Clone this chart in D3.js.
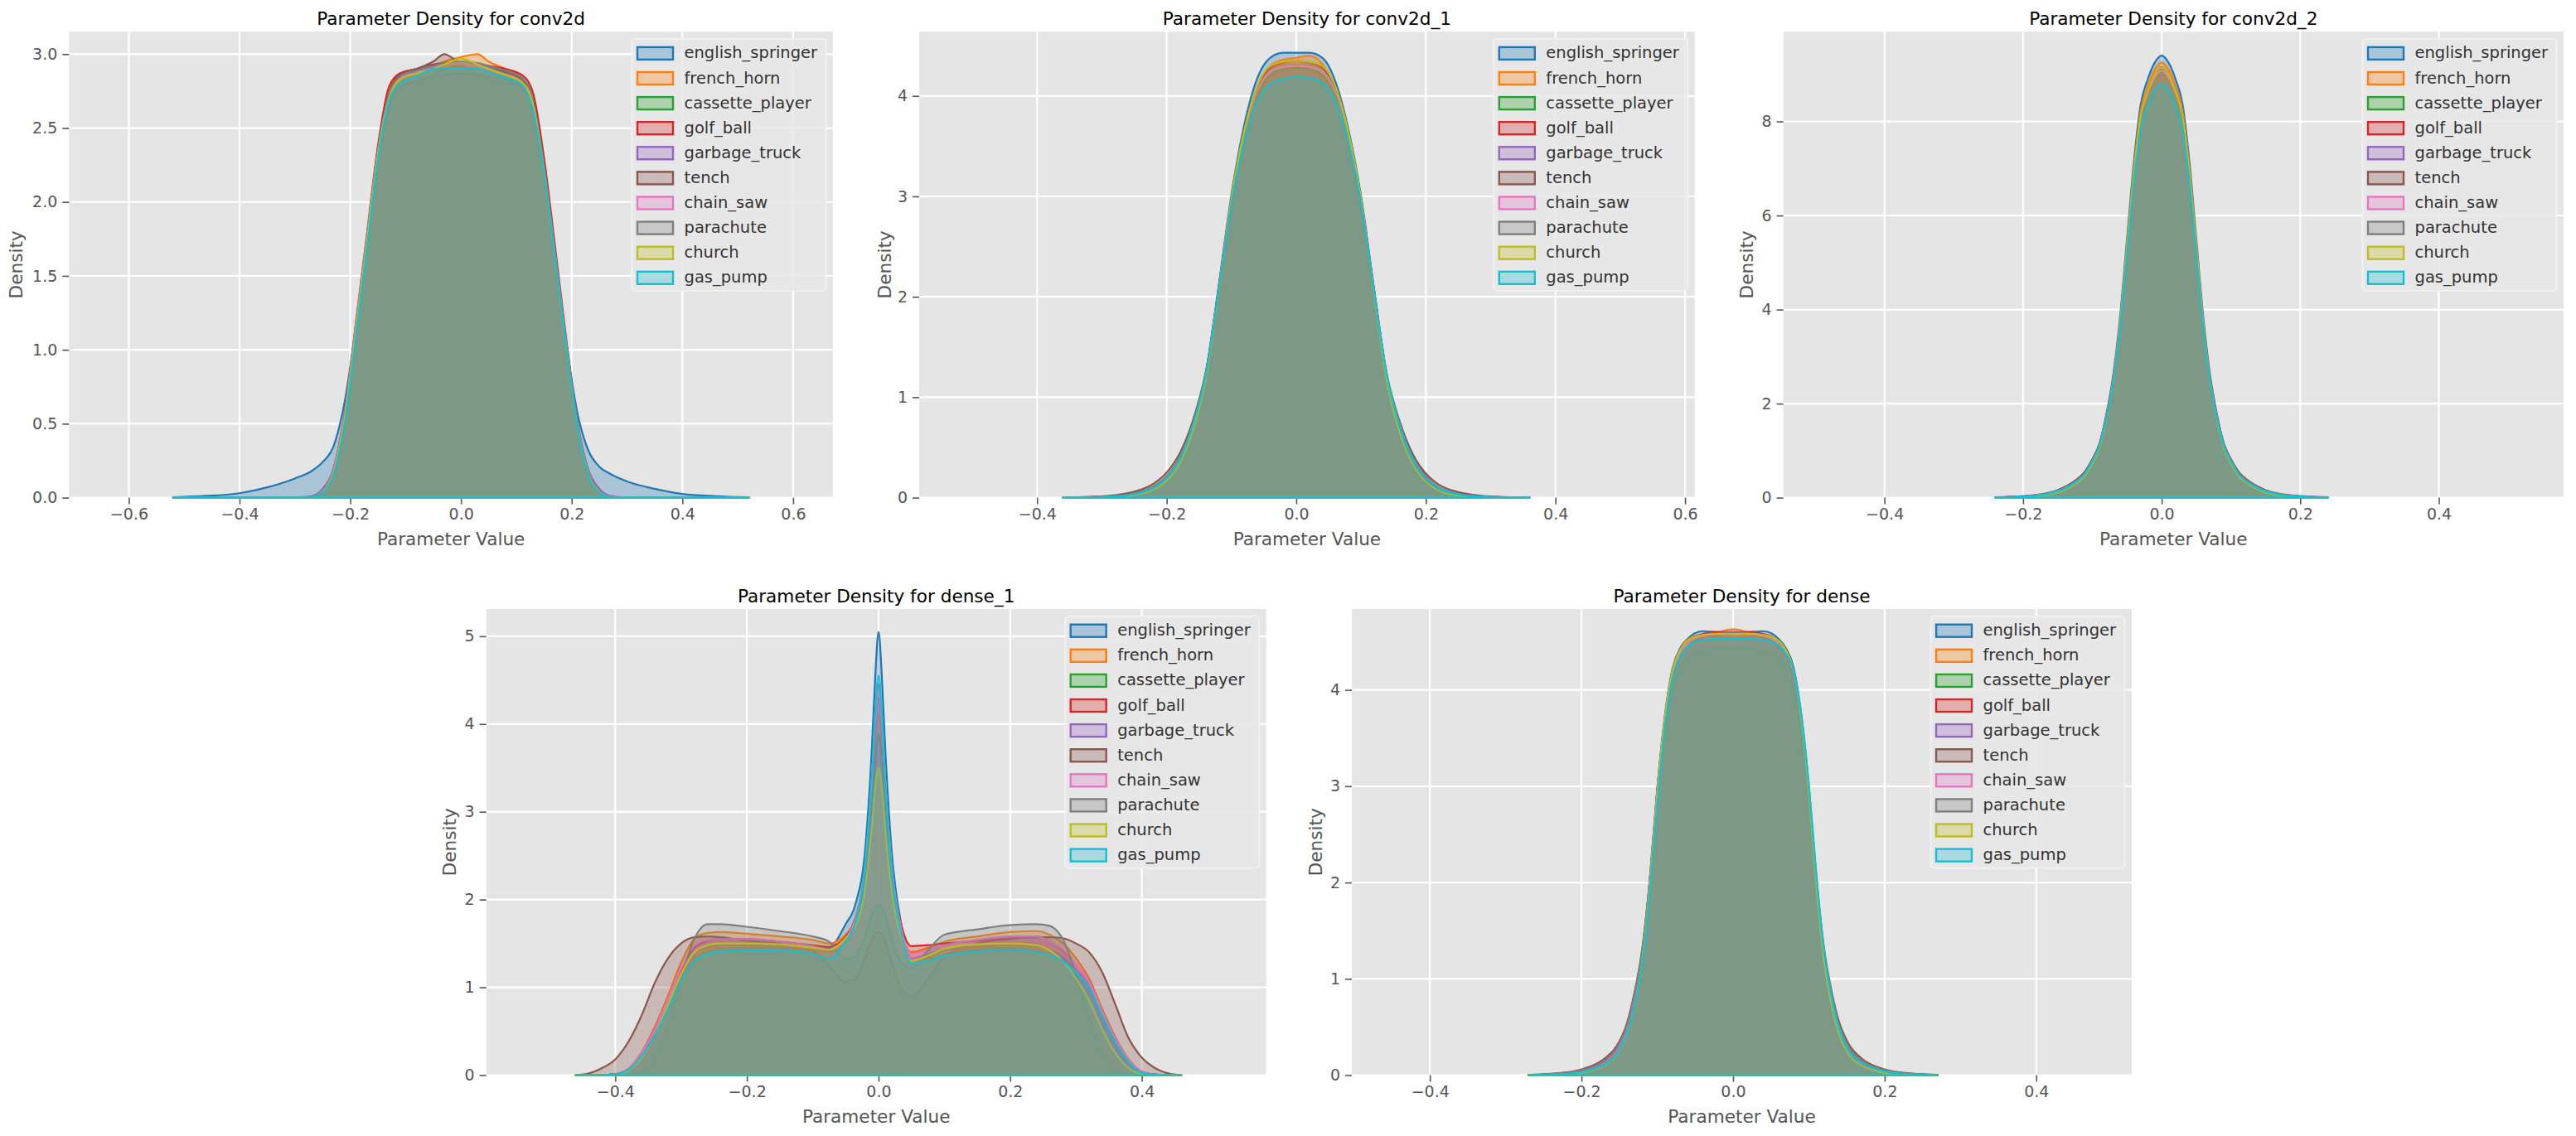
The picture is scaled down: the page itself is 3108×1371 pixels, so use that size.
<!DOCTYPE html>
<html><head><meta charset="utf-8">
<script src="https://cdn.jsdelivr.net/npm/d3@7"></script>
<style>html,body{margin:0;padding:0;background:#fff;} svg{display:block;font-family:"DejaVu Sans",sans-serif;}</style>
</head><body><svg id="chart" width="3108" height="1371"></svg>
<script>
// ---------- data ----------
const classes = ["english_springer","french_horn","cassette_player","golf_ball","garbage_truck","tench","chain_saw","parachute","church","gas_pump"];
const colors = ["#1f77b4","#ff7f0e","#2ca02c","#d62728","#9467bd","#8c564b","#e377c2","#7f7f7f","#bcbd22","#17becf"];
const layerNames = ["conv2d","conv2d_1","conv2d_2","dense_1","dense"];

// conv2d
const conv2dX = [-0.52,-0.46,-0.40,-0.35,-0.30,-0.27,-0.25,-0.23,-0.21,-0.19,-0.17,-0.15,-0.13,-0.11,-0.08,-0.05,-0.03,0,0.03,0.05,0.08,0.11,0.13,0.15,0.17,0.19,0.21,0.23,0.25,0.27,0.30,0.35,0.40,0.46,0.52];
const conv2dDensity = [
 [0.003,0.012,0.03,0.07,0.13,0.18,0.24,0.35,0.65,1.15,1.72,2.28,2.65,2.78,2.82,2.85,2.86,2.87,2.86,2.85,2.83,2.77,2.62,2.18,1.62,1.05,0.58,0.32,0.21,0.16,0.11,0.06,0.025,0.01,0.003],
 [0,0,0,0,0,0.003,0.04,0.18,0.55,1.15,1.76,2.36,2.74,2.87,2.9,2.92,2.95,2.98,3.0,2.95,2.9,2.84,2.7,2.25,1.65,1.05,0.5,0.17,0.04,0.004,0,0,0,0,0],
 [0,0,0,0,0,0.003,0.04,0.18,0.55,1.14,1.74,2.33,2.7,2.8,2.8,2.86,2.9,2.92,2.86,2.83,2.8,2.8,2.66,2.22,1.64,1.04,0.49,0.16,0.04,0.004,0,0,0,0,0],
 [0,0,0,0,0,0.004,0.05,0.2,0.58,1.18,1.78,2.38,2.78,2.87,2.9,2.93,2.94,2.94,2.93,2.92,2.9,2.86,2.74,2.3,1.7,1.08,0.52,0.18,0.045,0.005,0,0,0,0,0],
 [0,0,0,0,0.002,0.01,0.06,0.2,0.56,1.15,1.75,2.34,2.72,2.86,2.9,2.92,2.94,2.95,2.93,2.91,2.88,2.83,2.68,2.24,1.65,1.06,0.52,0.19,0.06,0.012,0.002,0,0,0,0],
 [0,0,0,0,0,0.003,0.04,0.18,0.55,1.15,1.75,2.35,2.73,2.86,2.9,2.95,3.0,2.94,2.93,2.9,2.88,2.83,2.68,2.23,1.64,1.04,0.5,0.17,0.04,0.004,0,0,0,0,0],
 [0,0,0,0,0,0.003,0.04,0.19,0.57,1.17,1.77,2.35,2.72,2.84,2.88,2.91,2.93,2.94,2.92,2.9,2.86,2.81,2.66,2.22,1.64,1.04,0.5,0.17,0.04,0.004,0,0,0,0,0],
 [0,0,0,0,0,0.003,0.04,0.18,0.55,1.15,1.75,2.34,2.72,2.85,2.89,2.92,2.94,2.95,2.94,2.92,2.89,2.84,2.69,2.24,1.65,1.05,0.5,0.17,0.04,0.004,0,0,0,0,0],
 [0,0,0,0,0,0.003,0.04,0.18,0.54,1.13,1.73,2.32,2.7,2.83,2.87,2.9,2.93,2.97,2.93,2.9,2.86,2.81,2.66,2.21,1.63,1.03,0.49,0.16,0.04,0.004,0,0,0,0,0],
 [0,0,0,0,0,0.003,0.035,0.16,0.5,1.08,1.68,2.28,2.68,2.8,2.85,2.9,2.905,2.905,2.9,2.88,2.84,2.79,2.62,2.2,1.63,1.03,0.48,0.15,0.035,0.003,0,0,0,0,0]
];
const conv2dXTicks = [-0.6,-0.4,-0.2,0,0.2,0.4,0.6];
const conv2dYTicks = [0,0.5,1.0,1.5,2.0,2.5,3.0];

// conv2d_1
const conv2d1X = [-0.36,-0.32,-0.28,-0.25,-0.22,-0.20,-0.18,-0.16,-0.14,-0.12,-0.10,-0.08,-0.06,-0.04,-0.02,0,0.02,0.04,0.06,0.08,0.10,0.12,0.14,0.16,0.18,0.20,0.22,0.25,0.28,0.32,0.36];
const conv2d1Density = [
 [0,0.004,0.015,0.04,0.11,0.21,0.39,0.72,1.22,2.1,3.02,3.72,4.18,4.38,4.43,4.43,4.43,4.38,4.15,3.68,3.0,2.08,1.2,0.7,0.38,0.2,0.1,0.035,0.012,0.003,0],
 [0,0.004,0.015,0.04,0.11,0.21,0.39,0.72,1.22,2.08,2.99,3.66,4.1,4.3,4.36,4.38,4.4,4.32,4.08,3.62,2.97,2.06,1.2,0.7,0.38,0.2,0.1,0.035,0.012,0.003,0],
 [0,0.003,0.012,0.035,0.1,0.2,0.38,0.7,1.2,2.05,2.95,3.6,4.03,4.22,4.27,4.28,4.27,4.22,4.03,3.58,2.93,2.04,1.18,0.68,0.37,0.19,0.09,0.03,0.01,0.002,0],
 [0,0.004,0.015,0.04,0.11,0.21,0.4,0.73,1.23,2.08,2.98,3.64,4.08,4.28,4.33,4.35,4.33,4.28,4.07,3.62,2.97,2.07,1.21,0.71,0.39,0.21,0.1,0.035,0.012,0.003,0],
 [0,0.004,0.015,0.04,0.11,0.21,0.39,0.72,1.21,2.06,2.96,3.62,4.05,4.25,4.3,4.31,4.3,4.25,4.05,3.6,2.95,2.05,1.2,0.7,0.38,0.2,0.1,0.035,0.012,0.003,0],
 [0.002,0.008,0.025,0.06,0.14,0.25,0.44,0.76,1.24,2.02,2.9,3.55,3.98,4.2,4.26,4.28,4.26,4.2,3.97,3.54,2.88,2.01,1.22,0.75,0.43,0.24,0.13,0.055,0.022,0.007,0.002],
 [0,0.004,0.015,0.04,0.11,0.21,0.39,0.71,1.2,2.05,2.95,3.61,4.04,4.24,4.29,4.3,4.29,4.24,4.04,3.59,2.94,2.04,1.19,0.7,0.38,0.2,0.1,0.035,0.012,0.003,0],
 [0,0.004,0.015,0.04,0.11,0.21,0.39,0.71,1.2,2.04,2.93,3.58,4.01,4.21,4.26,4.27,4.26,4.21,4.01,3.57,2.92,2.03,1.19,0.7,0.38,0.2,0.1,0.035,0.012,0.003,0],
 [0,0.002,0.008,0.025,0.08,0.17,0.34,0.66,1.17,2.05,2.98,3.66,4.1,4.3,4.34,4.35,4.34,4.3,4.1,3.65,2.97,2.03,1.15,0.64,0.33,0.16,0.07,0.02,0.006,0.001,0],
 [0,0.003,0.012,0.035,0.1,0.2,0.39,0.72,1.22,2.06,2.93,3.55,3.95,4.12,4.17,4.19,4.18,4.13,3.95,3.55,2.93,2.06,1.22,0.72,0.39,0.2,0.1,0.035,0.012,0.003,0]
];
const conv2d1XTicks = [-0.4,-0.2,0,0.2,0.4,0.6];
const conv2d1YTicks = [0,1,2,3,4];

// conv2d_2
const conv2d2X = [-0.24,-0.20,-0.17,-0.15,-0.13,-0.11,-0.10,-0.09,-0.08,-0.07,-0.06,-0.05,-0.04,-0.03,-0.02,-0.01,0,0.01,0.02,0.03,0.04,0.05,0.06,0.07,0.08,0.09,0.10,0.11,0.13,0.15,0.17,0.20,0.24];
const conv2d2Density = [
 [0.005,0.025,0.07,0.14,0.28,0.54,0.8,1.13,1.76,2.6,3.85,5.5,7.15,8.38,8.9,9.25,9.4,9.25,8.9,8.38,7.15,5.5,3.85,2.6,1.76,1.13,0.8,0.54,0.28,0.14,0.07,0.025,0.005],
 [0.005,0.025,0.07,0.14,0.28,0.53,0.79,1.12,1.73,2.55,3.77,5.4,7.02,8.24,8.75,9.1,9.25,9.1,8.75,8.24,7.02,5.4,3.77,2.55,1.73,1.12,0.79,0.53,0.28,0.14,0.07,0.025,0.005],
 [0.004,0.022,0.065,0.13,0.27,0.52,0.77,1.09,1.69,2.49,3.68,5.27,6.86,8.05,8.55,8.9,9.05,8.9,8.55,8.05,6.86,5.27,3.68,2.49,1.69,1.09,0.77,0.52,0.27,0.13,0.065,0.022,0.004],
 [0.005,0.025,0.07,0.14,0.28,0.53,0.78,1.1,1.71,2.52,3.73,5.34,6.95,8.15,8.65,9.0,9.15,9.0,8.65,8.15,6.95,5.34,3.73,2.52,1.71,1.1,0.78,0.53,0.28,0.14,0.07,0.025,0.005],
 [0.005,0.025,0.07,0.14,0.28,0.53,0.78,1.1,1.7,2.5,3.7,5.3,6.9,8.1,8.6,8.95,9.1,8.95,8.6,8.1,6.9,5.3,3.7,2.5,1.7,1.1,0.78,0.53,0.28,0.14,0.07,0.025,0.005],
 [0.008,0.035,0.085,0.16,0.31,0.57,0.82,1.14,1.72,2.5,3.66,5.22,6.8,7.98,8.5,8.85,9.0,8.85,8.5,7.98,6.8,5.22,3.66,2.5,1.72,1.14,0.82,0.57,0.31,0.16,0.085,0.035,0.008],
 [0.005,0.025,0.07,0.14,0.28,0.53,0.78,1.1,1.7,2.49,3.69,5.29,6.88,8.08,8.58,8.93,9.08,8.93,8.58,8.08,6.88,5.29,3.69,2.49,1.7,1.1,0.78,0.53,0.28,0.14,0.07,0.025,0.005],
 [0.005,0.025,0.07,0.14,0.28,0.53,0.78,1.1,1.69,2.48,3.66,5.24,6.82,8.0,8.5,8.85,9.0,8.85,8.5,8.0,6.82,5.24,3.66,2.48,1.69,1.1,0.78,0.53,0.28,0.14,0.07,0.025,0.005],
 [0.002,0.015,0.05,0.11,0.24,0.48,0.72,1.04,1.65,2.47,3.7,5.32,6.94,8.15,8.65,9.0,9.15,9.0,8.65,8.15,6.94,5.32,3.7,2.47,1.65,1.04,0.72,0.48,0.24,0.11,0.05,0.015,0.002],
 [0.005,0.025,0.07,0.14,0.28,0.53,0.78,1.1,1.68,2.45,3.62,5.15,6.7,7.84,8.32,8.66,8.8,8.66,8.32,7.84,6.7,5.15,3.62,2.45,1.68,1.1,0.78,0.53,0.28,0.14,0.07,0.025,0.005]
];
const conv2d2XTicks = [-0.4,-0.2,0,0.2,0.4];
const conv2d2YTicks = [0,2,4,6,8];

// dense_1
const dense1X = [-0.46,-0.44,-0.42,-0.40,-0.38,-0.36,-0.34,-0.32,-0.30,-0.28,-0.26,-0.24,-0.20,-0.15,-0.10,-0.075,-0.05,-0.035,-0.02,-0.01,-0.005,0,0.005,0.01,0.02,0.035,0.05,0.075,0.10,0.15,0.20,0.24,0.26,0.28,0.30,0.32,0.34,0.36,0.38,0.40,0.42,0.44,0.46];
const dense1Density = [
 [0,0,0,0.01,0.06,0.22,0.46,0.77,1.1,1.33,1.41,1.44,1.45,1.45,1.43,1.45,1.72,1.95,2.6,3.75,4.55,5.05,4.55,3.75,2.55,1.7,1.3,1.33,1.38,1.43,1.45,1.42,1.38,1.31,1.18,1.0,0.68,0.38,0.15,0.03,0.005,0,0],
 [0,0,0,0.01,0.07,0.26,0.55,0.9,1.28,1.55,1.62,1.63,1.61,1.58,1.54,1.5,1.6,1.8,2.35,3.2,3.78,4.1,3.78,3.18,2.3,1.65,1.4,1.45,1.52,1.58,1.63,1.64,1.6,1.5,1.33,1.1,0.75,0.43,0.18,0.04,0.006,0,0],
 [0,0,0,0.01,0.06,0.23,0.48,0.8,1.13,1.37,1.45,1.48,1.48,1.47,1.43,1.4,1.52,1.72,2.25,3.05,3.58,3.88,3.58,3.03,2.2,1.58,1.3,1.35,1.42,1.46,1.48,1.46,1.42,1.34,1.19,1.0,0.68,0.38,0.15,0.03,0.005,0,0],
 [0,0,0,0.01,0.07,0.25,0.52,0.85,1.2,1.45,1.53,1.55,1.55,1.52,1.48,1.46,1.58,1.8,2.4,3.35,3.95,4.3,3.95,3.33,2.36,1.7,1.47,1.48,1.5,1.53,1.56,1.58,1.52,1.42,1.27,1.06,0.72,0.41,0.17,0.04,0.006,0,0],
 [0,0,0,0.01,0.07,0.24,0.5,0.82,1.15,1.38,1.47,1.5,1.5,1.48,1.44,1.42,1.55,1.78,2.4,3.4,4.07,4.45,4.07,3.38,2.35,1.62,1.33,1.38,1.44,1.48,1.5,1.47,1.42,1.34,1.2,1.02,0.7,0.4,0.16,0.035,0.005,0,0],
 [0,0.02,0.08,0.18,0.38,0.68,1.05,1.33,1.5,1.57,1.58,1.57,1.53,1.5,1.42,1.25,1.06,1.1,1.35,1.55,1.61,1.63,1.6,1.52,1.28,0.98,0.9,1.1,1.35,1.5,1.55,1.57,1.57,1.56,1.5,1.4,1.17,0.8,0.42,0.2,0.08,0.02,0],
 [0,0,0,0.01,0.07,0.25,0.52,0.86,1.22,1.47,1.54,1.55,1.55,1.52,1.47,1.43,1.56,1.79,2.42,3.4,4.02,4.38,4.02,3.38,2.38,1.65,1.38,1.42,1.48,1.54,1.58,1.58,1.52,1.43,1.27,1.06,0.72,0.41,0.17,0.04,0.006,0,0],
 [0,0,0,0,0.005,0.03,0.2,0.55,1.1,1.55,1.72,1.72,1.69,1.64,1.58,1.52,1.32,1.35,1.6,1.84,1.92,1.94,1.91,1.82,1.55,1.28,1.22,1.42,1.6,1.66,1.71,1.72,1.7,1.55,1.15,0.65,0.25,0.06,0.01,0,0,0,0],
 [0,0,0,0.005,0.05,0.2,0.46,0.8,1.15,1.4,1.48,1.5,1.5,1.49,1.45,1.43,1.56,1.7,2.15,2.85,3.28,3.5,3.28,2.83,2.1,1.55,1.3,1.36,1.44,1.49,1.5,1.48,1.42,1.3,1.1,0.85,0.52,0.25,0.08,0.015,0.002,0,0],
 [0,0,0,0.01,0.06,0.22,0.45,0.75,1.07,1.3,1.38,1.41,1.42,1.42,1.38,1.33,1.52,1.75,2.45,3.45,4.15,4.55,4.15,3.4,2.35,1.6,1.27,1.3,1.36,1.41,1.43,1.4,1.37,1.3,1.17,1.0,0.68,0.38,0.15,0.03,0.005,0,0]
];
const dense1XTicks = [-0.4,-0.2,0,0.2,0.4];
const dense1YTicks = [0,1,2,3,4,5];

// dense
const denseX = [-0.27,-0.24,-0.21,-0.19,-0.17,-0.15,-0.14,-0.13,-0.12,-0.11,-0.10,-0.09,-0.08,-0.07,-0.06,-0.04,-0.02,0,0.02,0.04,0.06,0.07,0.08,0.09,0.10,0.11,0.12,0.13,0.14,0.15,0.17,0.19,0.21,0.24,0.27];
const denseDensity = [
 [0,0.008,0.025,0.06,0.13,0.3,0.49,0.82,1.28,2.03,2.98,3.73,4.22,4.43,4.53,4.61,4.6,4.59,4.6,4.61,4.53,4.43,4.23,3.74,3.0,2.05,1.28,0.82,0.49,0.3,0.13,0.06,0.025,0.008,0],
 [0,0.008,0.025,0.06,0.13,0.3,0.48,0.8,1.25,2.0,2.95,3.7,4.2,4.41,4.52,4.58,4.6,4.63,4.6,4.58,4.51,4.4,4.2,3.7,2.96,2.0,1.25,0.8,0.48,0.3,0.13,0.06,0.025,0.008,0],
 [0,0.007,0.023,0.056,0.125,0.29,0.47,0.79,1.24,1.99,2.94,3.68,4.18,4.38,4.48,4.56,4.58,4.58,4.58,4.56,4.48,4.38,4.18,3.68,2.94,1.99,1.24,0.79,0.47,0.29,0.125,0.056,0.023,0.007,0],
 [0,0.008,0.025,0.06,0.13,0.3,0.48,0.8,1.25,2.0,2.95,3.7,4.2,4.4,4.5,4.58,4.6,4.6,4.6,4.58,4.5,4.4,4.2,3.7,2.95,2.0,1.25,0.8,0.48,0.3,0.13,0.06,0.025,0.008,0],
 [0,0.008,0.025,0.06,0.13,0.3,0.48,0.8,1.25,2.0,2.95,3.7,4.19,4.39,4.49,4.57,4.59,4.6,4.59,4.57,4.49,4.39,4.19,3.7,2.95,2.0,1.25,0.8,0.48,0.3,0.13,0.06,0.025,0.008,0],
 [0.003,0.015,0.04,0.085,0.17,0.35,0.54,0.86,1.3,2.0,2.9,3.62,4.12,4.35,4.46,4.55,4.57,4.58,4.57,4.55,4.46,4.35,4.12,3.62,2.9,2.02,1.32,0.87,0.55,0.36,0.17,0.085,0.04,0.015,0.003],
 [0,0.008,0.025,0.06,0.13,0.3,0.48,0.8,1.25,2.0,2.94,3.69,4.18,4.38,4.48,4.56,4.58,4.58,4.58,4.56,4.48,4.38,4.18,3.69,2.94,2.0,1.25,0.8,0.48,0.3,0.13,0.06,0.025,0.008,0],
 [0.002,0.012,0.035,0.075,0.15,0.33,0.52,0.84,1.28,1.98,2.85,3.55,4.0,4.22,4.33,4.41,4.43,4.44,4.43,4.41,4.33,4.22,4.0,3.55,2.85,1.98,1.28,0.84,0.52,0.33,0.15,0.075,0.035,0.012,0.002],
 [0,0.004,0.015,0.04,0.1,0.25,0.42,0.72,1.18,1.95,2.92,3.7,4.2,4.41,4.51,4.57,4.58,4.58,4.58,4.57,4.51,4.41,4.2,3.7,2.92,1.95,1.18,0.72,0.42,0.25,0.1,0.04,0.015,0.004,0],
 [0,0.006,0.02,0.05,0.11,0.26,0.43,0.72,1.15,1.88,2.82,3.6,4.12,4.34,4.45,4.52,4.53,4.53,4.53,4.52,4.46,4.37,4.2,3.75,3.02,2.08,1.3,0.82,0.49,0.3,0.13,0.06,0.025,0.008,0]
];
const denseXTicks = [-0.4,-0.2,0,0.2,0.4];
const denseYTicks = [0,1,2,3,4];

// ---------- layout ----------
const panels = [
  {name: layerNames[0], xs: conv2dX, dens: conv2dDensity, xt: conv2dXTicks, yt: conv2dYTicks, yfmt: ".1f",
   box: [83.3, 38.2, 1005, 600.6], xdom: [-0.708, 0.672], ydom: [0, 3.152], ylabX: 19.5},
  {name: layerNames[1], xs: conv2d1X, dens: conv2d1Density, xt: conv2d1XTicks, yt: conv2d1YTicks, yfmt: "d",
   box: [1109, 38.2, 2044.8, 600.6], xdom: [-0.582, 0.615], ydom: [0, 4.64], ylabX: 1067},
  {name: layerNames[2], xs: conv2d2X, dens: conv2d2Density, xt: conv2d2XTicks, yt: conv2d2YTicks, yfmt: "d",
   box: [2151.6, 38.2, 3093, 600.6], xdom: [-0.546, 0.580], ydom: [0, 9.91], ylabX: 2107},
  {name: layerNames[3], xs: dense1X, dens: dense1Density, xt: dense1XTicks, yt: dense1YTicks, yfmt: "d",
   box: [586.7, 735, 1527.7, 1297.5], xdom: [-0.596, 0.589], ydom: [0, 5.31], ylabX: 542},
  {name: layerNames[4], xs: denseX, dens: denseDensity, xt: denseXTicks, yt: denseYTicks, yfmt: "d",
   box: [1631, 735, 2572, 1297.5], xdom: [-0.503, 0.526], ydom: [0, 4.84], ylabX: 1587}
];

const svg = d3.select("#chart");
const fx = d3.format(".1f");
const FILL_ALPHA = 0.3;

panels.forEach(p => {
  const [L, T, R, B] = p.box;
  const x = d3.scaleLinear().domain(p.xdom).range([L, R]);
  const y = d3.scaleLinear().domain(p.ydom).range([B, T]);
  const g = svg.append("g");

  g.append("rect").attr("x", L).attr("y", T).attr("width", R - L).attr("height", B - T).attr("fill", "#E5E5E5");

  // grid
  g.selectAll(".gx").data(p.xt).join("line")
    .attr("x1", d => x(d)).attr("x2", d => x(d)).attr("y1", T).attr("y2", B)
    .attr("stroke", "#fff").attr("stroke-width", 2.2);
  g.selectAll(".gy").data(p.yt).join("line")
    .attr("y1", d => y(d)).attr("y2", d => y(d)).attr("x1", L).attr("x2", R)
    .attr("stroke", "#fff").attr("stroke-width", 2.2);

  // axes
  const xAxis = d3.axisBottom(x).tickValues(p.xt).tickFormat(fx).tickSize(8).tickPadding(5);
  const yAxis = d3.axisLeft(y).tickValues(p.yt).tickFormat(d3.format(p.yfmt)).tickSize(8).tickPadding(6);
  const gx = g.append("g").attr("transform", `translate(0,${B})`).call(xAxis);
  const gy = g.append("g").attr("transform", `translate(${L},0)`).call(yAxis);
  [gx, gy].forEach(a => {
    a.select(".domain").remove();
    a.selectAll(".tick line").attr("stroke", "#555").attr("stroke-width", 1.6);
    a.selectAll(".tick text").attr("fill", "#555").style("font-size", "19px").style("font-family", "DejaVu Sans");
  });

  // densities
  const area = d3.area().curve(d3.curveMonotoneX)
    .x((d, i) => x(p.xs[i])).y0(y(0)).y1(d => y(d));
  p.dens.forEach((vals, k) => {
    g.append("path").attr("d", area(vals))
      .attr("fill", colors[k]).attr("fill-opacity", FILL_ALPHA)
      .attr("stroke", colors[k]).attr("stroke-width", 2.2).attr("stroke-linejoin", "round");
  });

  // title & labels
  g.append("text").attr("x", (L + R) / 2).attr("y", T - 8.5).attr("text-anchor", "middle")
    .style("font-size", "21.6px").attr("fill", "#000").text("Parameter Density for " + p.name);
  g.append("text").attr("x", (L + R) / 2).attr("y", B + 57).attr("text-anchor", "middle")
    .style("font-size", "21.6px").attr("fill", "#555").text("Parameter Value");
  g.append("text").attr("transform", `translate(${p.ylabX + 7.5},${(T + B) / 2}) rotate(-90)`)
    .attr("text-anchor", "middle").style("font-size", "21.6px").attr("fill", "#555").text("Density");

  // legend
  const lw = 234, lh = 304;
  const lx = R - 8.5 - lw, ly = T + 8.6;
  const lg = g.append("g");
  lg.append("rect").attr("x", lx).attr("y", ly).attr("width", lw).attr("height", lh).attr("rx", 4)
    .attr("fill", "#E8E8E8").attr("fill-opacity", 0.85).attr("stroke", "#F2F2F2").attr("stroke-width", 1.8);
  classes.forEach((c, k) => {
    const cy = ly + 17.6 + k * 30.1;
    lg.append("rect").attr("x", lx + 6.5).attr("y", cy - 7.5).attr("width", 43).attr("height", 15)
      .attr("fill", colors[k]).attr("fill-opacity", FILL_ALPHA).attr("stroke", colors[k]).attr("stroke-width", 2.4);
    lg.append("text").attr("x", lx + 63).attr("y", cy + 6).style("font-size", "19.5px").attr("fill", "#333").text(c);
  });
});
</script>
</body></html>
